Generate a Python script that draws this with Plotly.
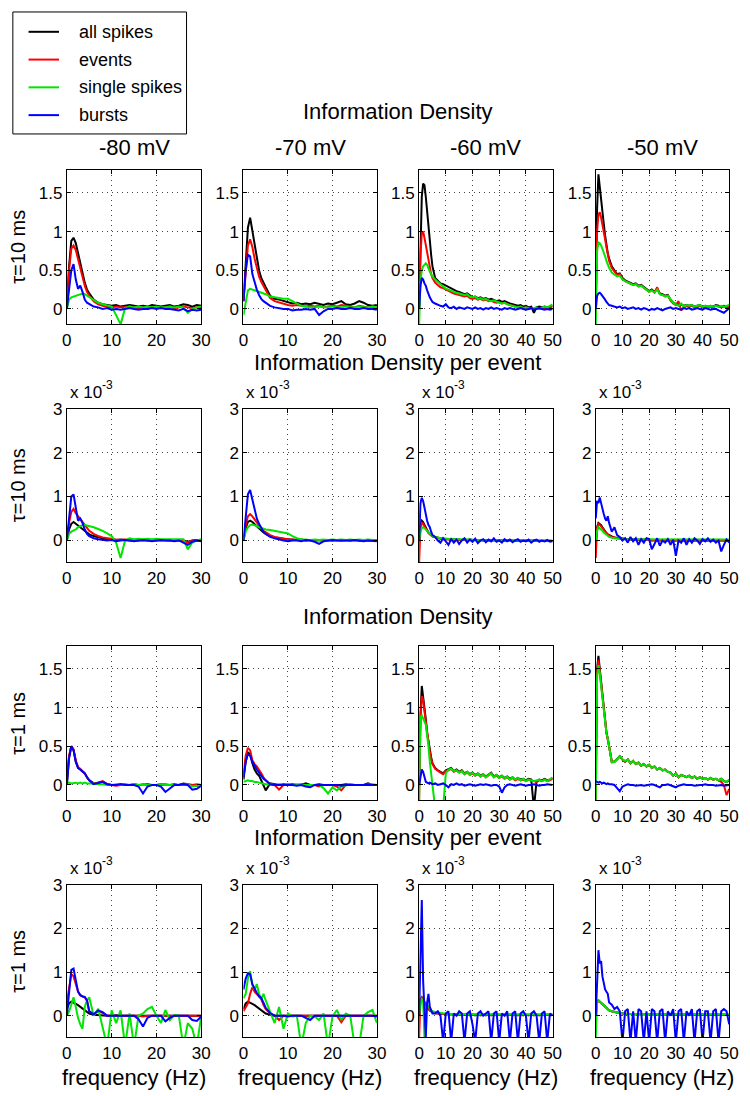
import plotly.graph_objects as go

# ---------------- data ----------------
F30 = [0, 0.5, 1, 1.5, 2, 2.5, 3, 3.5, 4, 4.5, 5, 6, 7, 8, 9, 10, 11, 12, 13, 14, 15,
       16, 17, 18, 19, 20, 21, 22, 23, 24, 25, 26, 27, 28, 29, 30]
F50 = [0, 0.5, 1, 1.5, 2, 2.5, 3, 3.5, 4, 4.5, 5, 6, 7, 8, 9, 10, 11, 12, 13, 14, 15,
       16, 17, 18, 19, 20, 21, 22, 23, 24, 25, 26, 27, 28, 29, 30, 31, 32, 33, 34, 35,
       36, 37, 38, 39, 40, 41, 42, 43, 44, 45, 46, 47, 48, 49, 50]

SERIES = ["all spikes", "events", "single spikes", "bursts"]
COLUMN_TITLES = ["-80 mV", "-70 mV", "-60 mV", "-50 mV"]
ROW_TITLES = ["Information Density", "Information Density per event",
              "Information Density", "Information Density per event"]
ROW_LABELS = ["τ=10 ms", "τ=10 ms", "τ=1 ms", "τ=1 ms"]
X_TICKS_30 = [0, 10, 20, 30]
X_TICKS_50 = [0, 10, 20, 30, 40, 50]
Y_TICKS_ID = [0, 0.5, 1, 1.5]
Y_TICKS_IDE = [0, 1, 2, 3]          # per-event rows are in units of 1e-3
SCALE_BASE = "x 10"
SCALE_EXP = "-3"

# Row 1: Information Density, tau = 10 ms
id10_m80_all = [0, 0.55, 0.88, 0.92, 0.85, 0.72, 0.58, 0.45, 0.34, 0.25, 0.2,
                0.12, 0.08, 0.06, 0.05, 0.04, 0.05, 0.03, 0.04, 0.05, 0.04, 0.03, 0.04, 0.03, 0.05, 0.04, 0.03, 0.04, 0.05, 0.03, 0.04, 0.06, 0.05, 0.03, 0.05, 0.04]
id10_m80_ev = [0, 0.5, 0.78, 0.82, 0.76, 0.64, 0.52, 0.4, 0.3, 0.22, 0.17,
               0.1, 0.06, 0.04, 0.03, 0.02, 0.03, 0.02, 0.02, 0.03, 0.02, 0.01, 0.02, 0.0, 0.02, 0.02, 0.01, 0.02, 0.03, 0.01, 0.02, 0.03, 0.02, 0.01, 0.02, 0.02]
id10_m80_ss = [0, 0.12, 0.15, 0.16, 0.17, 0.19, 0.2, 0.2, 0.19, 0.17, 0.15,
               0.11, 0.08, 0.06, 0.04, 0.03, -0.08, -0.2, 0.01, 0.03, 0.02, 0.03, 0.02, 0.03, 0.02, 0.03, 0.02, 0.02, 0.03, 0.02, 0.03, 0.02, -0.05, 0.0, 0.02, 0.03]
id10_m80_bu = [0, 0.3, 0.5, 0.58, 0.38, 0.26, 0.3, 0.22, 0.12, 0.08, 0.06,
               0.03, 0.02, 0.0, 0.01, -0.01, 0.0, -0.01, 0.0, 0.01, 0.0, -0.01, 0.0, 0.0, 0.01, 0.0, 0.01, 0.0, 0.0, -0.01, -0.02, 0.0, -0.03, -0.01, -0.02, -0.01]

id10_m70_all = [0.1, 0.6, 1.05, 1.18, 1.0, 0.8, 0.62, 0.5, 0.4, 0.33, 0.28,
                0.17, 0.13, 0.12, 0.1, 0.08, 0.07, 0.08, 0.06, 0.07, 0.06, 0.08, 0.06, 0.05, 0.07, 0.06, 0.08, 0.1, 0.06, 0.05, 0.07, 0.1, 0.08, 0.05, 0.04, 0.05]
id10_m70_ev = [0.1, 0.5, 0.82, 0.9, 0.8, 0.65, 0.52, 0.42, 0.35, 0.3, 0.25,
               0.14, 0.1, 0.08, 0.06, 0.05, 0.04, 0.05, 0.04, 0.03, 0.04, 0.03, 0.04, 0.02, 0.03, 0.04, 0.03, 0.05, 0.04, 0.03, 0.02, 0.04, 0.03, 0.02, 0.03, 0.02]
id10_m70_ss = [-0.08, 0.1, 0.24, 0.26, 0.25, 0.25, 0.23, 0.22, 0.21, 0.2, 0.19,
               0.16, 0.15, 0.14, 0.13, 0.13, 0.1, 0.06, 0.04, 0.03, 0.02, 0.02, 0.03, 0.02, 0.02, 0.03, 0.02, 0.02, 0.03, 0.02, 0.02, 0.03, 0.02, 0.02, 0.03, 0.02]
id10_m70_bu = [0.1, 0.5, 0.7, 0.68, 0.45, 0.34, 0.25, 0.18, 0.13, 0.1, 0.08,
               0.04, 0.02, 0.01, 0.0, 0.0, -0.02, -0.01, -0.01, 0.0, -0.01, 0.0, -0.08, -0.03, 0.0, 0.0, 0.01, 0.0, 0.0, 0.01, 0.0, 0.0, 0.01, 0.0, 0.0, -0.01]

id10_m60_all = [0, 0.9, 1.45, 1.62, 1.6, 1.45, 1.22, 1.05, 0.89, 0.7, 0.55,
                0.4, 0.36, 0.33, 0.32, 0.3, 0.28, 0.26, 0.25, 0.23, 0.22, 0.2, 0.19, 0.2, 0.17, 0.15, 0.16, 0.14, 0.15, 0.13, 0.14,
                0.12, 0.13, 0.11, 0.1, 0.11, 0.09, 0.1, 0.08, 0.07, 0.06, 0.05, 0.04, 0.05, 0.03, 0.04, 0.02, 0.03, -0.05, 0.02, 0.03,
                0.02, 0.03, 0.02, 0.03, 0.04]
id10_m60_ev = [0, 0.7, 0.98, 1.0, 0.92, 0.82, 0.72, 0.62, 0.52, 0.45, 0.4,
               0.34, 0.31, 0.28, 0.27, 0.25, 0.23, 0.22, 0.2, 0.19, 0.18, 0.17, 0.16, 0.17, 0.14, 0.13, 0.14, 0.12, 0.13, 0.11, 0.12,
               0.1, 0.11, 0.09, 0.08, 0.09, 0.07, 0.08, 0.06, 0.05, 0.04, 0.03, 0.02, 0.03, 0.01, 0.02, 0.0, 0.01, 0.0, 0.01, 0.0,
               0.01, 0.0, 0.01, 0.02, 0.03]
id10_m60_ss = [-0.2, 0.35, 0.5, 0.55, 0.57, 0.59, 0.57, 0.52, 0.48, 0.45, 0.42,
               0.38, 0.35, 0.32, 0.3, 0.26, 0.25, 0.23, 0.22, 0.21, 0.2, 0.19, 0.18, 0.19, 0.16, 0.15, 0.16, 0.13, 0.14, 0.12, 0.13,
               0.11, 0.1, 0.11, 0.09, 0.08, 0.07, 0.08, 0.06, 0.05, 0.04, 0.03, 0.02, 0.03, 0.01, 0.02, 0.01, 0.0, 0.01, 0.02, 0.0,
               0.01, 0.03, 0.02, 0.04, 0.06]
id10_m60_bu = [0, 0.3, 0.4, 0.38, 0.33, 0.3, 0.24, 0.19, 0.15, 0.12, 0.09,
               0.07, 0.05, 0.04, 0.03, 0.06, 0.02, 0.01, 0.03, 0.0, 0.02, 0.01, 0.0, 0.02, 0.01, 0.0, 0.02, 0.0, 0.01, -0.01, 0.01,
               0.0, 0.02, 0.0, 0.01, 0.0, -0.01, 0.01, 0.0, 0.01, 0.0, -0.01, 0.0, 0.01, 0.0, -0.01, 0.0, 0.01, -0.01, 0.0, 0.01,
               0.0, -0.01, 0.0, -0.01, 0.0]

id10_m50_all = [0, 1.3, 1.74, 1.6, 1.45, 1.28, 1.1, 0.95, 0.82, 0.72, 0.65,
                0.55, 0.5, 0.45, 0.46, 0.4, 0.37, 0.35, 0.34, 0.32, 0.33, 0.3, 0.31, 0.28, 0.26, 0.23, 0.25, 0.22, 0.26, 0.2, 0.19,
                0.17, 0.18, 0.12, 0.08, 0.06, 0.05, 0.06, 0.04, 0.05, 0.04, 0.05, 0.03, 0.04, 0.05, 0.03, 0.04, 0.03, 0.04, 0.03, 0.05,
                0.04, 0.03, 0.04, 0.03, 0.02]
id10_m50_ev = [0, 1.0, 1.22, 1.25, 1.18, 1.1, 1.0, 0.9, 0.8, 0.7, 0.62,
               0.53, 0.48, 0.44, 0.45, 0.39, 0.36, 0.34, 0.33, 0.31, 0.32, 0.29, 0.3, 0.27, 0.25, 0.22, 0.24, 0.21, 0.28, 0.19, 0.18,
               0.16, 0.17, 0.11, 0.07, 0.05, 0.1, -0.02, 0.02, 0.04, 0.03, 0.04, 0.02, 0.03, 0.04, 0.02, 0.03, 0.02, 0.03, 0.02, 0.04,
               0.03, 0.02, 0.03, 0.02, 0.03]
id10_m50_ss = [-0.2, 0.75, 0.86, 0.85, 0.82, 0.78, 0.73, 0.68, 0.62, 0.57, 0.53,
               0.47, 0.44, 0.42, 0.43, 0.38, 0.36, 0.34, 0.33, 0.31, 0.32, 0.29, 0.3, 0.27, 0.25, 0.22, 0.24, 0.21, 0.25, 0.19, 0.18,
               0.16, 0.17, 0.12, 0.08, 0.06, 0.04, 0.07, 0.03, 0.05, 0.04, 0.05, 0.03, 0.04, 0.05, 0.03, 0.04, 0.03, 0.04, 0.03, 0.04,
               0.03, 0.04, 0.03, 0.04, 0.05]
id10_m50_bu = [0, 0.17, 0.2, 0.21, 0.19, 0.17, 0.15, 0.12, 0.09, 0.07, 0.05,
               0.04, 0.03, 0.02, 0.03, 0.01, 0.02, 0.0, 0.01, 0.02, 0.0, 0.01, -0.01, 0.01, 0.0, -0.02, 0.0, -0.01, 0.01, 0.0, -0.02,
               0.0, 0.01, 0.02, 0.0, 0.01, 0.0, -0.01, 0.01, 0.0, 0.01, -0.01, 0.0, 0.01, 0.0, -0.01, 0.01, 0.0, -0.01, 0.0, 0.0,
               -0.02, -0.04, -0.05, -0.02, 0.01]

# Row 2: Information Density per event (x 1e-3), tau = 10 ms
ide10_m80_all = [0, 0.25, 0.38, 0.42, 0.38, 0.33, 0.3, 0.26, 0.22, 0.18, 0.14,
                 0.1, 0.07, 0.05, 0.03, 0.02, 0.01, 0.02, 0.01, 0.0, 0.01, 0.0, 0.01, 0.0, 0.01, 0.0, 0.01, 0.0, 0.0, 0.01, 0.0, 0.0, -0.03, 0.0, 0.01, 0.0]
ide10_m80_ev = [0, 0.4, 0.65, 0.72, 0.62, 0.55, 0.5, 0.42, 0.35, 0.28, 0.22,
                0.15, 0.1, 0.07, 0.05, 0.03, 0.02, 0.01, 0.02, 0.01, 0.0, 0.01, 0.0, 0.01, 0.0, 0.01, 0.0, 0.01, 0.0, 0.0, 0.01, 0.0, -0.05, 0.0, 0.0, -0.01]
ide10_m80_ss = [0, 0.15, 0.2, 0.22, 0.25, 0.3, 0.33, 0.35, 0.35, 0.34, 0.32,
                0.3, 0.26, 0.22, 0.16, 0.1, -0.05, -0.4, 0.0, 0.05, 0.03, 0.04, 0.03, 0.04, 0.03, 0.04, 0.03, 0.03, 0.04, 0.03, 0.04, 0.03, -0.2, -0.05, 0.0, 0.03]
ide10_m80_bu = [0, 0.6, 1.0, 1.05, 0.7, 0.45, 0.5, 0.4, 0.25, 0.15, 0.1,
                0.05, 0.03, 0.02, 0.0, 0.01, -0.02, 0.0, 0.01, 0.0, -0.02, 0.0, 0.01, 0.0, -0.02, 0.0, 0.01, 0.0, 0.0, -0.02, 0.0, -0.05, -0.1, -0.03, 0.0, -0.02]

ide10_m70_all = [0, 0.28, 0.42, 0.45, 0.42, 0.37, 0.32, 0.27, 0.22, 0.18, 0.15,
                 0.1, 0.07, 0.05, 0.04, 0.03, 0.02, 0.01, 0.02, 0.0, 0.01, 0.0, 0.01, 0.0, 0.01, 0.0, 0.01, 0.0, 0.01, 0.0, 0.01, 0.0, 0.01, 0.0, 0.0, 0.0]
ide10_m70_ev = [0, 0.35, 0.55, 0.6, 0.55, 0.48, 0.4, 0.33, 0.27, 0.22, 0.18,
                0.12, 0.08, 0.06, 0.04, 0.03, 0.02, 0.01, 0.02, 0.0, 0.01, 0.0, 0.01, 0.0, 0.01, 0.0, 0.01, 0.0, 0.01, 0.0, 0.01, 0.0, 0.01, 0.0, 0.0, 0.0]
ide10_m70_ss = [0, 0.2, 0.3, 0.35, 0.36, 0.35, 0.33, 0.3, 0.28, 0.27, 0.25,
                0.24, 0.22, 0.2, 0.18, 0.16, 0.1, 0.05, 0.03, 0.02, 0.01, 0.02, 0.01, 0.02, 0.01, 0.02, 0.01, 0.02, 0.01, 0.02, 0.01, 0.02, 0.01, 0.02, 0.01, 0.0]
ide10_m70_bu = [0, 0.6, 1.05, 1.15, 0.95, 0.7, 0.5, 0.38, 0.28, 0.2, 0.15,
                0.08, 0.05, 0.02, 0.0, -0.02, 0.0, 0.0, -0.02, 0.01, 0.0, -0.03, -0.08, -0.02, 0.0, 0.01, 0.0, 0.0, -0.01, 0.0, 0.01, 0.0, -0.02, 0.0, -0.01, -0.02]

ide10_m60_all = [0, 0.35, 0.45, 0.42, 0.35, 0.28, 0.22, 0.18, 0.15, 0.12, 0.1,
                 0.08, 0.06, 0.05, 0.04, 0.03, 0.03, 0.02, 0.03, 0.02, 0.02, 0.01, 0.02, 0.01, 0.02, 0.01, 0.01, 0.0, 0.01, 0.0, 0.01,
                 0.0, 0.01, 0.0, 0.0, 0.01, 0.0, 0.0, 0.01, 0.0, 0.0, -0.01, 0.0, 0.0, -0.01, 0.0, 0.0, -0.01, 0.0, 0.0, -0.01,
                 0.0, -0.01, 0.0, -0.01, -0.01]
ide10_m60_ev = [-0.5, 0.3, 0.4, 0.38, 0.32, 0.26, 0.21, 0.17, 0.14, 0.11, 0.09,
                0.07, 0.05, 0.04, 0.03, 0.03, 0.02, 0.02, 0.02, 0.01, 0.02, 0.01, 0.01, 0.01, 0.01, 0.0, 0.01, 0.0, 0.01, 0.0, 0.0,
                0.0, 0.01, 0.0, 0.0, 0.0, 0.0, -0.01, 0.0, 0.0, 0.0, -0.01, 0.0, 0.0, -0.01, 0.0, 0.0, -0.01, 0.0, 0.0, -0.01,
                0.0, -0.01, 0.0, -0.01, -0.01]
ide10_m60_ss = [0, 0.2, 0.28, 0.3, 0.28, 0.25, 0.2, 0.17, 0.14, 0.12, 0.1,
                0.08, 0.06, 0.05, 0.05, 0.04, 0.04, 0.03, 0.03, 0.03, 0.02, 0.02, 0.02, 0.02, 0.02, 0.01, 0.01, 0.01, 0.01, 0.01, 0.01,
                0.0, 0.01, 0.0, 0.01, 0.0, 0.0, 0.0, 0.0, 0.0, 0.0, 0.0, 0.0, 0.0, 0.0, 0.0, 0.0, 0.0, 0.0, 0.0, 0.0,
                0.0, 0.0, 0.0, 0.0, 0.0]
ide10_m60_bu = [0, 0.85, 0.97, 0.9, 0.75, 0.55, 0.45, 0.35, 0.3, 0.2, 0.12,
                0.08, 0.0, -0.05, 0.05, -0.02, -0.1, 0.03, -0.05, 0.02, -0.08, 0.0, 0.05, -0.05, 0.02, -0.03, 0.04, -0.06, 0.0, 0.03, -0.04,
                0.02, -0.02, 0.05, -0.03, 0.0, -0.05, 0.03, -0.02, 0.02, -0.04, 0.0, 0.03, -0.03, 0.0, -0.02, 0.02, -0.05, 0.0, 0.02, -0.03,
                0.0, -0.02, 0.01, -0.03, -0.02]

ide10_m50_all = [0, 0.3, 0.4, 0.38, 0.35, 0.3, 0.25, 0.2, 0.17, 0.14, 0.12,
                 0.09, 0.07, 0.06, 0.05, 0.04, 0.03, 0.03, 0.02, 0.03, 0.02, 0.02, 0.01, 0.02, 0.01, 0.01, 0.0, 0.01, 0.0, 0.01, 0.0,
                 0.0, 0.01, 0.0, 0.0, 0.0, 0.01, 0.0, 0.0, 0.0, 0.0, 0.01, 0.0, 0.0, 0.0, 0.0, 0.0, 0.0, 0.0, 0.0, 0.0,
                 0.0, 0.0, 0.0, 0.0, 0.0]
ide10_m50_ev = [-0.4, 0.28, 0.38, 0.36, 0.32, 0.28, 0.23, 0.19, 0.16, 0.13, 0.11,
                0.08, 0.07, 0.05, 0.04, 0.04, 0.03, 0.02, 0.02, 0.02, 0.02, 0.01, 0.01, 0.01, 0.01, 0.01, 0.0, 0.01, 0.0, 0.0, 0.0,
                0.0, 0.01, 0.0, 0.0, 0.0, 0.0, 0.0, 0.0, 0.0, 0.0, 0.0, 0.0, 0.0, 0.0, 0.0, 0.0, 0.0, 0.0, 0.0, 0.0,
                0.0, 0.0, 0.0, 0.0, 0.0]
ide10_m50_ss = [0, 0.22, 0.3, 0.28, 0.25, 0.22, 0.18, 0.15, 0.12, 0.1, 0.08,
                0.06, 0.05, 0.04, 0.04, 0.03, 0.03, 0.03, 0.02, 0.02, 0.02, 0.02, 0.02, 0.02, 0.02, 0.02, 0.02, 0.02, 0.02, 0.02, 0.02,
                0.02, 0.02, 0.02, 0.02, 0.02, 0.02, 0.02, 0.02, 0.02, 0.02, 0.02, 0.02, 0.02, 0.02, 0.02, 0.02, 0.02, 0.02, 0.02, 0.02,
                0.02, 0.02, 0.02, 0.02, 0.02]
ide10_m50_bu = [0.5, 0.9, 0.85, 0.98, 0.85, 0.7, 0.6, 0.5, 0.45, 0.55, 0.4,
                0.2, 0.3, 0.12, 0.08, 0.0, 0.05, -0.05, 0.08, -0.02, 0.05, -0.1, 0.03, -0.05, 0.05, 0.03, -0.2, -0.08, 0.05, -0.12, 0.0,
                -0.05, 0.03, -0.1, 0.02, -0.35, 0.0, -0.05, 0.05, -0.1, 0.03, -0.05, 0.05, 0.0, -0.08, 0.03, -0.02, 0.05, -0.03, 0.02, -0.05,
                0.0, -0.25, -0.1, 0.02, -0.05]

# Row 3: Information Density, tau = 1 ms
id1_m80_all = [0, 0.35, 0.5, 0.45, 0.3, 0.22, 0.2, 0.18, 0.15, 0.1, 0.06,
               0.02, 0.03, 0.04, 0.01, 0.0, 0.0, 0.01, 0.0, 0.0, 0.01, 0.0, 0.0, 0.01, 0.0, 0.0, 0.01, 0.0, 0.0, 0.01, 0.0, 0.02, 0.01, 0.0, -0.01, 0.0]
id1_m80_ev = [0.1, 0.38, 0.5, 0.46, 0.32, 0.23, 0.21, 0.18, 0.15, 0.1, 0.06,
              0.02, 0.03, 0.05, 0.01, 0.0, -0.01, 0.0, 0.01, 0.0, 0.0, 0.0, 0.01, 0.0, 0.0, 0.0, 0.0, 0.01, 0.0, 0.0, 0.0, 0.01, 0.0, 0.0, 0.01, 0.0]
id1_m80_ss = [0.02, 0.03, 0.02, 0.03, 0.03, 0.02, 0.03, 0.02, 0.03, 0.02, 0.02,
              0.02, 0.01, 0.01, 0.0, 0.0, 0.01, 0.0, 0.0, 0.0, 0.01, 0.0, 0.0, 0.0, 0.0, 0.0, 0.01, 0.0, 0.0, 0.0, 0.0, 0.0, 0.01, -0.02, -0.01, 0.0]
id1_m80_bu = [0, 0.35, 0.5, 0.45, 0.3, 0.22, 0.2, 0.18, 0.15, 0.1, 0.06,
              0.01, 0.03, 0.04, 0.01, 0.0, 0.0, 0.01, 0.0, 0.0, 0.0, -0.02, -0.11, -0.02, 0.0, 0.0, -0.02, -0.09, -0.04, 0.0, 0.0, 0.01, 0.0, -0.06, -0.05, -0.01]

id1_m70_all = [0.07, 0.3, 0.42, 0.4, 0.28, 0.2, 0.15, 0.12, 0.06, 0.0, -0.07,
               0.02, 0.01, 0.0, 0.01, 0.0, 0.01, 0.0, 0.0, 0.02, 0.0, 0.0, 0.01, 0.0, 0.0, 0.0, 0.0, 0.0, 0.01, 0.0, 0.0, 0.0, 0.0, 0.02, 0.0, 0.0]
id1_m70_ev = [0.15, 0.38, 0.48, 0.45, 0.32, 0.27, 0.24, 0.2, 0.15, 0.1, 0.06,
              0.01, 0.0, -0.06, 0.0, 0.01, 0.0, 0.0, 0.01, 0.0, 0.0, 0.0, -0.02, 0.0, 0.0, 0.0, -0.02, -0.07, 0.0, 0.01, 0.0, 0.0, 0.0, 0.01, 0.0, 0.0]
id1_m70_ss = [0.04, 0.05, 0.06, 0.05, 0.05, 0.04, 0.04, 0.03, 0.02, 0.02, 0.01,
              0.01, 0.0, 0.01, 0.0, 0.0, 0.0, 0.01, 0.0, 0.0, 0.0, 0.0, 0.0, -0.04, -0.11, -0.03, -0.07, -0.02, 0.0, 0.01, 0.0, 0.0, 0.0, 0.0, 0.01, 0.0]
id1_m70_bu = [0.1, 0.3, 0.4, 0.38, 0.3, 0.24, 0.2, 0.16, 0.12, 0.08, 0.06,
              0.01, 0.0, 0.0, 0.0, 0.0, 0.0, -0.01, 0.0, -0.02, -0.03, 0.0, 0.0, 0.0, 0.0, 0.0, 0.0, -0.01, 0.0, 0.0, 0.0, 0.0, 0.0, 0.0, 0.0, 0.0]

id1_m60_all = [0.0, 0.9, 1.28, 1.15, 0.98, 0.85, 0.67, 0.55, 0.45, 0.36, 0.28,
               0.22, 0.19, 0.17, 0.15, 0.19, 0.2, 0.22, 0.18, 0.2, 0.17, 0.19, 0.15, 0.17, 0.14, 0.16, 0.13, 0.15, 0.12, 0.14, 0.11,
               0.13, 0.16, 0.11, 0.13, 0.1, 0.12, 0.09, 0.11, 0.08, 0.1, 0.07, 0.09, 0.07, 0.08, 0.06, 0.08, 0.07, -0.3, 0.05, 0.07,
               0.06, 0.08, 0.06, 0.07, 0.08]
id1_m60_ev = [-0.2, 0.85, 1.15, 1.1, 0.95, 0.82, 0.65, 0.53, 0.43, 0.34, 0.27,
              0.21, 0.18, 0.16, 0.14, 0.18, 0.19, 0.21, 0.17, 0.19, 0.16, 0.18, 0.14, 0.16, 0.13, 0.15, 0.12, 0.14, 0.11, 0.13, 0.1,
              0.12, 0.15, 0.1, 0.12, 0.09, 0.11, 0.08, 0.1, 0.07, 0.09, 0.06, 0.08, 0.06, 0.07, 0.05, 0.07, 0.06, 0.05, 0.04, 0.06,
              0.05, 0.07, 0.05, 0.06, 0.09]
id1_m60_ss = [-0.2, 0.88, 0.9, 0.85, 0.82, 0.78, 0.67, 0.5, 0.3, 0.15, 0.07,
              -0.3, -0.3, -0.3, -0.3, 0.15, 0.2, 0.21, 0.18, 0.19, 0.16, 0.18, 0.14, 0.17, 0.13, 0.16, 0.12, 0.15, 0.11, 0.14, 0.1,
              0.13, 0.15, 0.1, 0.13, 0.09, 0.12, 0.08, 0.11, 0.07, 0.1, 0.07, 0.09, 0.06, 0.08, 0.05, 0.07, 0.06, 0.05, 0.06, 0.07,
              0.05, 0.07, 0.05, 0.07, 0.1]
id1_m60_bu = [0.0, 0.12, 0.2, 0.17, 0.08, 0.04, 0.03, 0.02, 0.03, 0.02, 0.01,
              0.02, 0.0, 0.01, 0.02, 0.0, -0.03, 0.01, 0.0, 0.02, 0.0, 0.01, -0.01, 0.0, 0.01, 0.0, -0.01, 0.0, 0.01, 0.0, 0.01,
              0.0, -0.01, 0.0, 0.0, -0.02, -0.1, -0.03, 0.0, 0.01, 0.0, -0.01, 0.0, 0.01, 0.0, -0.01, 0.0, 0.0, 0.01, 0.0, -0.01,
              0.0, 0.0, 0.01, 0.0, 0.0]

id1_m50_all = [0.0, 1.5, 1.67, 1.5, 1.3, 1.15, 1.0, 0.85, 0.68, 0.6, 0.5,
               0.3, 0.3, 0.33, 0.37, 0.33, 0.3, 0.33, 0.28, 0.31, 0.27, 0.29, 0.25, 0.27, 0.24, 0.26, 0.22, 0.24, 0.2, 0.22, 0.19,
               0.2, 0.17, 0.16, 0.12, 0.15, 0.1, 0.13, 0.11, 0.1, 0.12, 0.09, 0.11, 0.08, 0.1, 0.08, 0.09, 0.07, 0.09, 0.07, 0.08,
               0.06, 0.08, 0.05, 0.04, 0.06]
id1_m50_ev = [-0.2, 1.45, 1.62, 1.48, 1.28, 1.13, 0.98, 0.84, 0.67, 0.6, 0.5,
              0.3, 0.3, 0.33, 0.37, 0.33, 0.3, 0.33, 0.28, 0.31, 0.27, 0.29, 0.25, 0.27, 0.24, 0.26, 0.22, 0.24, 0.2, 0.22, 0.19,
              0.2, 0.17, 0.16, 0.12, 0.15, 0.1, 0.13, 0.11, 0.1, 0.12, 0.09, 0.11, 0.08, 0.1, 0.08, 0.09, 0.07, 0.09, 0.07, 0.08,
              0.06, 0.04, 0.0, -0.13, -0.05]
id1_m50_ss = [-0.2, 1.4, 1.55, 1.45, 1.28, 1.12, 0.98, 0.84, 0.67, 0.6, 0.5,
              0.29, 0.3, 0.34, 0.37, 0.33, 0.31, 0.33, 0.28, 0.31, 0.27, 0.29, 0.25, 0.27, 0.24, 0.26, 0.22, 0.24, 0.2, 0.22, 0.19,
              0.2, 0.17, 0.16, 0.12, 0.15, 0.1, 0.13, 0.11, 0.1, 0.12, 0.09, 0.11, 0.08, 0.1, 0.08, 0.09, 0.07, 0.09, 0.07, 0.08,
              0.06, 0.08, 0.05, 0.04, 0.07]
id1_m50_bu = [0.05, 0.04, 0.03, 0.04, 0.03, 0.02, 0.03, 0.02, 0.01, 0.02, 0.01,
              0.01, 0.0, -0.04, -0.08, -0.02, 0.0, 0.01, 0.0, 0.0, -0.01, 0.0, 0.0, -0.01, 0.0, 0.0, 0.01, 0.0, -0.02, -0.03, 0.0,
              0.0, 0.01, 0.0, -0.01, -0.03, -0.01, 0.0, 0.01, 0.0, 0.0, 0.0, -0.01, 0.0, 0.0, 0.0, 0.01, 0.0, 0.0, 0.0, -0.01,
              0.0, 0.0, -0.01, 0.0, 0.0]

# Row 4: Information Density per event (x 1e-3), tau = 1 ms
ide1_m80_all = [0.15, 0.28, 0.32, 0.3, 0.27, 0.24, 0.2, 0.17, 0.13, 0.1, 0.05,
                0.02, 0.01, 0.0, 0.0, 0.0, 0.01, 0.0, 0.0, 0.0, 0.0, 0.0, 0.0, 0.01, 0.0, 0.0, 0.0, 0.0, 0.0, 0.0, 0.0, 0.01, 0.0, 0.0, 0.0, 0.0]
ide1_m80_ev = [0.3, 0.6, 0.95, 0.9, 0.75, 0.55, 0.47, 0.44, 0.42, 0.35, 0.1,
               0.03, 0.1, 0.06, 0.0, 0.0, 0.0, 0.0, 0.0, 0.0, 0.0, 0.0, -0.02, 0.0, 0.0, 0.0, 0.0, 0.0, 0.0, 0.0, 0.0, 0.0, 0.0, 0.0, 0.0, 0.0]
ide1_m80_ss = [0, 0.1, 0.25, 0.42, 0.2, -0.05, -0.2, -0.3, 0.2, 0.35, 0.42,
               0.0, 0.16, -0.3, -0.7, 0.12, -0.17, 0.12, -0.7, 0.05, -0.7, 0.0, 0.05, 0.15, 0.2, 0.0, -0.17, 0.13, -0.1, 0.02, 0.0, -0.7, -0.17, -0.3, -0.7, 0.0]
ide1_m80_bu = [0, 0.6, 1.05, 1.08, 0.8, 0.55, 0.47, 0.44, 0.43, 0.35, 0.1,
               0.03, 0.12, 0.08, 0.0, 0.0, 0.0, 0.01, 0.0, 0.0, 0.0, -0.08, -0.25, -0.05, 0.0, 0.0, 0.0, -0.13, -0.05, 0.0, 0.0, 0.0, 0.0, -0.1, -0.12, -0.02]

ide1_m70_all = [0.15, 0.28, 0.32, 0.3, 0.27, 0.24, 0.2, 0.15, 0.12, 0.08, 0.05,
                0.02, 0.0, 0.0, 0.0, 0.0, 0.0, 0.0, 0.0, 0.0, 0.0, 0.0, 0.0, 0.0, 0.0, 0.0, 0.0, 0.0, 0.0, 0.0, 0.0, 0.0, 0.0, 0.0, 0.0, 0.0]
ide1_m70_ev = [0.1, 0.2, 0.28, 0.5, 0.65, 0.55, 0.5, 0.43, 0.38, 0.25, 0.15,
               0.05, 0.0, -0.1, 0.0, 0.0, 0.0, 0.0, 0.0, 0.0, 0.0, 0.0, 0.0, 0.0, 0.0, 0.0, 0.0, -0.15, 0.0, 0.0, 0.0, 0.0, 0.0, 0.0, 0.0, 0.0]
ide1_m70_ss = [0.4, 0.5, 0.85, 1.02, 0.7, 0.6, 0.72, 0.5, 0.38, 0.5, 0.35,
               0.1, -0.17, 0.2, -0.3, 0.05, -0.02, 0.0, -0.7, -0.17, 0.0, -0.02, -0.1, 0.05, -0.7, -0.02, 0.13, -0.1, 0.05, 0.0, -0.7, -0.7, 0.0, 0.08, 0.13, -0.17]
ide1_m70_bu = [0.6, 0.85, 0.97, 0.95, 0.72, 0.6, 0.52, 0.45, 0.4, 0.3, 0.18,
               0.06, 0.0, 0.0, 0.0, -0.02, 0.0, 0.0, 0.0, -0.05, -0.1, 0.0, 0.0, 0.0, 0.0, 0.0, 0.0, 0.0, 0.0, 0.0, 0.0, 0.0, 0.0, 0.0, 0.0, -0.02]

ide1_m60_all = [0.0, 0.35, 0.42, 0.38, 0.3, 0.25, 0.2, 0.15, 0.12, 0.1, 0.08,
                0.06, 0.05, 0.04, 0.04, 0.03, 0.03, 0.03, 0.02, 0.02, 0.02, 0.02, 0.02, 0.02, 0.01, 0.02, 0.01, 0.02, 0.01, 0.02, 0.01,
                0.02, 0.01, 0.02, 0.01, 0.02, 0.01, 0.02, 0.01, 0.02, 0.01, 0.02, 0.01, 0.02, 0.01, 0.02, 0.01, 0.02, 0.01, 0.02, 0.01,
                0.02, 0.01, 0.02, 0.01, 0.02]
ide1_m60_ev = [-0.5, 0.35, 0.42, 0.4, 0.32, 0.26, 0.2, 0.15, 0.12, 0.1, 0.08,
               0.06, 0.05, 0.04, 0.04, 0.03, 0.03, 0.03, 0.02, 0.02, 0.02, 0.02, 0.02, 0.02, 0.01, 0.02, 0.01, 0.02, 0.01, 0.02, 0.01,
               0.02, 0.01, 0.02, 0.01, 0.02, 0.01, 0.02, 0.01, 0.02, 0.01, 0.02, 0.01, 0.02, 0.01, 0.02, 0.01, 0.02, 0.01, 0.02, 0.01,
               0.02, 0.01, 0.02, 0.01, 0.02]
ide1_m60_ss = [0.0, 0.3, 0.38, 0.35, -0.5, 0.2, 0.25, 0.2, 0.15, 0.12, 0.1,
               0.08, 0.07, 0.06, 0.05, 0.05, 0.04, 0.04, 0.04, 0.03, 0.03, 0.03, 0.03, 0.03, 0.03, 0.03, 0.03, 0.03, 0.03, 0.03, 0.03,
               0.03, 0.03, 0.03, 0.03, 0.03, 0.03, 0.03, 0.03, 0.03, 0.03, 0.03, 0.03, 0.03, 0.03, 0.03, 0.03, 0.03, 0.03, 0.03, 0.03,
               0.03, 0.03, 0.03, 0.03, 0.03]
ide1_m60_bu = [0.0, 1.8, 2.65, 0.8, 0.0, -0.5, 0.3, 0.5, 0.2, 0.1, 0.05,
               0.05, 0.1, 0.0, -0.6, 0.05, 0.1, -0.6, 0.05, 0.0, 0.1, 0.05, -0.6, 0.05, 0.1, -0.2, -0.6, 0.05, 0.1, 0.0, 0.05,
               0.1, -0.6, 0.05, 0.1, -0.6, 0.05, 0.0, 0.1, -0.6, 0.05, 0.1, -0.6, 0.05, 0.1, 0.0, -0.6, 0.05, 0.1, 0.0, -0.6,
               0.05, 0.1, -0.6, 0.05, 0.0]

ide1_m50_all = [0.0, 0.32, 0.35, 0.33, 0.3, 0.27, 0.24, 0.2, 0.18, 0.15, 0.12,
                0.1, 0.08, 0.07, 0.06, 0.05, 0.05, 0.04, 0.04, 0.03, 0.03, 0.03, 0.03, 0.02, 0.03, 0.02, 0.02, 0.02, 0.02, 0.02, 0.02,
                0.02, 0.02, 0.02, 0.02, 0.02, 0.02, 0.02, 0.02, 0.02, 0.02, 0.02, 0.02, 0.02, 0.02, 0.02, 0.02, 0.02, 0.02, 0.02, 0.02,
                0.02, 0.02, 0.02, 0.02, 0.02]
ide1_m50_ev = [0.0, 0.3, 0.34, 0.32, 0.29, 0.26, 0.23, 0.2, 0.17, 0.14, 0.12,
               0.1, 0.08, 0.07, 0.06, 0.05, 0.05, 0.04, 0.04, 0.03, 0.03, 0.03, 0.03, 0.02, 0.03, 0.02, 0.02, 0.02, 0.02, 0.02, 0.02,
               0.02, 0.02, 0.02, 0.02, 0.02, 0.02, 0.02, 0.02, 0.02, 0.02, 0.02, 0.02, 0.02, 0.02, 0.02, 0.02, 0.02, 0.02, 0.02, 0.02,
               0.02, 0.02, 0.02, 0.02, 0.02]
ide1_m50_ss = [-0.5, 0.3, 0.35, 0.33, 0.3, 0.27, 0.24, 0.2, 0.18, 0.15, 0.12,
               0.1, 0.08, 0.07, 0.06, 0.05, 0.05, 0.04, 0.04, 0.04, 0.03, 0.03, 0.03, 0.03, 0.03, 0.03, 0.03, 0.03, 0.03, 0.03, 0.03,
               0.03, 0.03, 0.03, 0.03, 0.03, 0.03, 0.03, 0.03, 0.03, 0.03, 0.03, 0.03, 0.03, 0.03, 0.03, 0.03, 0.03, 0.03, 0.03, 0.03,
               0.03, 0.03, 0.03, 0.03, 0.03]
ide1_m50_bu = [0.0, 1.0, 1.5, 1.2, 1.25, 0.9, 0.7, 0.6, 0.55, 0.5, 0.3,
               0.25, 0.15, 0.2, 0.1, -0.6, 0.1, 0.15, -0.6, 0.1, -0.6, 0.15, 0.1, -0.6, 0.1, -0.6, 0.15, 0.1, -0.6, 0.1, 0.15,
               -0.6, 0.1, 0.0, 0.15, -0.6, 0.1, 0.15, -0.6, 0.1, 0.0, 0.15, -0.6, 0.1, 0.15, -0.6, 0.1, 0.1, -0.6, 0.1, 0.15,
               -0.6, 0.1, 0.15, 0.1, -0.2]

# ---------------- panel table built from the arrays ----------------
PANELS = [
    [(F30, [id10_m80_all, id10_m80_ev, id10_m80_ss, id10_m80_bu]),
     (F30, [id10_m70_all, id10_m70_ev, id10_m70_ss, id10_m70_bu]),
     (F50, [id10_m60_all, id10_m60_ev, id10_m60_ss, id10_m60_bu]),
     (F50, [id10_m50_all, id10_m50_ev, id10_m50_ss, id10_m50_bu])],
    [(F30, [ide10_m80_all, ide10_m80_ev, ide10_m80_ss, ide10_m80_bu]),
     (F30, [ide10_m70_all, ide10_m70_ev, ide10_m70_ss, ide10_m70_bu]),
     (F50, [ide10_m60_all, ide10_m60_ev, ide10_m60_ss, ide10_m60_bu]),
     (F50, [ide10_m50_all, ide10_m50_ev, ide10_m50_ss, ide10_m50_bu])],
    [(F30, [id1_m80_all, id1_m80_ev, id1_m80_ss, id1_m80_bu]),
     (F30, [id1_m70_all, id1_m70_ev, id1_m70_ss, id1_m70_bu]),
     (F50, [id1_m60_all, id1_m60_ev, id1_m60_ss, id1_m60_bu]),
     (F50, [id1_m50_all, id1_m50_ev, id1_m50_ss, id1_m50_bu])],
    [(F30, [ide1_m80_all, ide1_m80_ev, ide1_m80_ss, ide1_m80_bu]),
     (F30, [ide1_m70_all, ide1_m70_ev, ide1_m70_ss, ide1_m70_bu]),
     (F50, [ide1_m60_all, ide1_m60_ev, ide1_m60_ss, ide1_m60_bu]),
     (F50, [ide1_m50_all, ide1_m50_ev, ide1_m50_ss, ide1_m50_bu])],
]

# ---------------- styling / layout ----------------
W, H = 750, 1096
COLORS = ["#000000", "#ff0000", "#00e600", "#0000ff"]
COL_PX = [(63, 200), (243, 379), (422, 558), (602, 738)]
ROW_PX = [(162, 318), (403, 558), (642, 798), (883, 1037)]
ROW_TITLE_Y = [103, 356, 613, 835]
FONT = "Liberation Sans, Arial, Helvetica, sans-serif"


def px(x):
    return x / W


def py(y):
    return 1 - y / H


def text_ann(text, x, y, size, xanchor="center", angle=0):
    return dict(text=text, x=px(x), y=py(y), xref="paper", yref="paper",
                xanchor=xanchor, yanchor="middle", textangle=angle, showarrow=False,
                font=dict(size=size, family=FONT, color="black"))


fig = go.Figure()
layout = dict(
    width=W, height=H, margin=dict(l=0, r=0, t=0, b=0),
    paper_bgcolor="white", plot_bgcolor="white", showlegend=False,
    font=dict(family=FONT, color="black", size=17),
)
annotations = []
shapes = []

axis_common = dict(
    showline=True, linecolor="black", linewidth=1, mirror="ticks",
    ticks="inside", ticklen=4, tickcolor="black", tickwidth=1,
    showgrid=True, gridcolor="#444444", gridwidth=1, griddash="1px,4px",
    zeroline=False, fixedrange=True,
    tickfont=dict(family=FONT, size=17, color="black"),
)

for r in range(4):
    per_event = r in (1, 3)
    for c in range(4):
        k = r * 4 + c + 1
        sfx = "" if k == 1 else str(k)
        freq, series = PANELS[r][c]
        xmax = 30 if freq is F30 else 50
        for s_idx, vals in enumerate(series):
            n = min(len(freq), len(vals))
            fig.add_trace(go.Scatter(
                x=freq[:n], y=vals[:n], mode="lines", name=SERIES[s_idx],
                line=dict(color=COLORS[s_idx], width=2),
                xaxis="x" + sfx, yaxis="y" + sfx, hoverinfo="skip",
            ))
        x0, x1 = COL_PX[c]
        y0, y1 = ROW_PX[r]
        xa = dict(axis_common)
        xa.update(domain=[px(x0), px(x1)], range=[0, xmax], anchor="y" + sfx,
                  tickvals=X_TICKS_30 if xmax == 30 else X_TICKS_50)
        ya = dict(axis_common)
        if per_event:
            ya.update(range=[-0.5, 3], tickvals=Y_TICKS_IDE,
                      ticktext=[str(v) for v in Y_TICKS_IDE])
        else:
            ya.update(range=[-0.2, 1.8], tickvals=Y_TICKS_ID,
                      ticktext=["0", "0.5", "1", "1.5"])
        ya.update(domain=[py(y1), py(y0)], anchor="x" + sfx)
        layout["xaxis" + sfx] = xa
        layout["yaxis" + sfx] = ya

        if per_event:
            # "x 10^-3" exponent label drawn as base + raised exponent
            annotations.append(text_ann(SCALE_BASE, x0 + 1, y0 - 16, 17, xanchor="left"))
            annotations.append(text_ann(SCALE_EXP, x0 + 34, y0 - 24, 12, xanchor="left"))
        if r == 3:
            annotations.append(text_ann("frequency (Hz)", (x0 + x1) / 2, 1077, 22))

# column titles
for c, t in enumerate(COLUMN_TITLES):
    x0, x1 = COL_PX[c]
    annotations.append(text_ann(t, (x0 + x1) / 2, 140, 22))
# row titles
for t, yc in zip(ROW_TITLES, ROW_TITLE_Y):
    annotations.append(text_ann(t, 400, yc, 22))
# row (y) labels
for r, t in enumerate(ROW_LABELS):
    y0, y1 = ROW_PX[r]
    annotations.append(text_ann(t, 13, (y0 + y1) / 2, 20, angle=-90))

# legend box (drawn to match the reference's MATLAB legend)
shapes.append(dict(type="rect", xref="paper", yref="paper",
                   x0=px(8), x1=px(185), y0=py(126), y1=py(3),
                   line=dict(color="black", width=1), fillcolor="white", layer="above"))
for i, (name, col) in enumerate(zip(SERIES, COLORS)):
    yc = 23 + 28 * i
    shapes.append(dict(type="line", xref="paper", yref="paper",
                       x0=px(24), x1=px(55), y0=py(yc), y1=py(yc),
                       line=dict(color=col, width=2), layer="above"))
    annotations.append(text_ann(name, 73, yc, 18, xanchor="left"))

layout["annotations"] = annotations
layout["shapes"] = shapes
fig.update_layout(**layout)
fig.write_html(
    "out.html",
    config={"displayModeBar": False},
    post_script="document.body.style.margin='0px';document.body.style.padding='0px';"
                "document.documentElement.style.overflow='hidden';",
)
